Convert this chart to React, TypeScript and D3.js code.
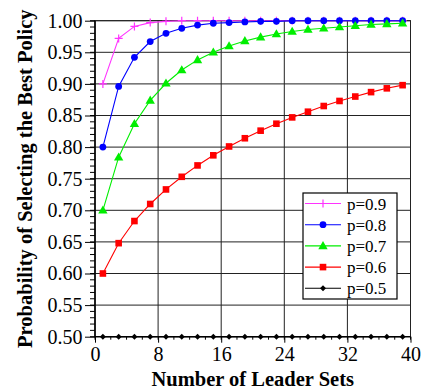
import React, { useEffect, useRef } from 'react';
import * as d3 from 'd3';

const leaderSets = [1, 3, 5, 7, 9, 11, 13, 15, 17, 19, 21, 23, 25, 27, 29, 31, 33, 35, 37, 39];

const p09 = [0.9, 0.972, 0.991, 0.997, 0.999, 1.0, 1.0, 1.0, 1.0, 1.0, 1.0, 1.0, 1.0, 1.0, 1.0, 1.0, 1.0, 1.0, 1.0, 1.0];
const p08 = [0.8, 0.896, 0.942, 0.967, 0.98, 0.988, 0.993, 0.996, 0.997, 0.998, 0.999, 0.999, 1.0, 1.0, 1.0, 1.0, 1.0, 1.0, 1.0, 1.0];
const p07 = [0.7, 0.784, 0.837, 0.874, 0.901, 0.922, 0.938, 0.95, 0.96, 0.968, 0.974, 0.979, 0.983, 0.986, 0.988, 0.99, 0.992, 0.994, 0.995, 0.996];
const p06 = [0.6, 0.648, 0.683, 0.71, 0.733, 0.753, 0.771, 0.787, 0.801, 0.814, 0.826, 0.837, 0.847, 0.856, 0.865, 0.873, 0.88, 0.887, 0.893, 0.898];
const p05 = [0.5, 0.5, 0.5, 0.5, 0.5, 0.5, 0.5, 0.5, 0.5, 0.5, 0.5, 0.5, 0.5, 0.5, 0.5, 0.5, 0.5, 0.5, 0.5, 0.5];

const seriesNames = ['p=0.9', 'p=0.8', 'p=0.7', 'p=0.6', 'p=0.5'];
const seriesValues = [p09, p08, p07, p06, p05];
const seriesColors = ['#ff33ff', '#0000ff', '#00ee00', '#ff0000', '#000000'];
const seriesMarkers = ['plus', 'circle', 'triangle', 'square', 'diamond'];

const xTicks = [0, 8, 16, 24, 32, 40];
const yTicks = [0.5, 0.55, 0.6, 0.65, 0.7, 0.75, 0.8, 0.85, 0.9, 0.95, 1.0];

const FONT = 'Liberation Serif';

const App: React.FC = () => {
  const svgRef = useRef<SVGSVGElement>(null);

  useEffect(() => {
    if (!svgRef.current) return;
    d3.select(svgRef.current).selectAll('*').remove();

    const margin = { top: 20.7, right: 16.5, bottom: 53.3, left: 95 };
    const width = 427 - margin.left - margin.right;
    const height = 390 - margin.top - margin.bottom;

    const svg = d3.select(svgRef.current)
      .attr('font-family', FONT)
      .append('g')
      .attr('transform', `translate(${margin.left},${margin.top})`);

    const x = d3.scaleLinear().domain([0, 40]).range([0, width]);
    const y = d3.scaleLinear().domain([0.5, 1.0]).range([height, 0]);

    // grid
    svg.append('g')
      .selectAll('line')
      .data(yTicks)
      .enter()
      .append('line')
      .attr('x1', 0)
      .attr('x2', width)
      .attr('y1', d => y(d))
      .attr('y2', d => y(d))
      .attr('stroke', '#222')
      .attr('stroke-width', 1);

    svg.append('g')
      .selectAll('line')
      .data(xTicks)
      .enter()
      .append('line')
      .attr('y1', 0)
      .attr('y2', height)
      .attr('x1', d => x(d))
      .attr('x2', d => x(d))
      .attr('stroke', '#222')
      .attr('stroke-width', 1);

    svg.append('rect')
      .attr('width', width)
      .attr('height', height)
      .attr('fill', 'none')
      .attr('stroke', '#222')
      .attr('stroke-width', 1);

    // left and bottom axis lines
    svg.append('path')
      .attr('d', `M0,0V${height}H${width}`)
      .attr('fill', 'none')
      .attr('stroke', '#000')
      .attr('stroke-width', 1.3);

    // minor ticks (outward)
    svg.append('g')
      .selectAll('line')
      .data(d3.range(0.5, 1.0001, 0.01))
      .enter()
      .append('line')
      .attr('x1', 0)
      .attr('x2', -5)
      .attr('y1', d => y(d))
      .attr('y2', d => y(d))
      .attr('stroke', '#000');

    svg.append('g')
      .selectAll('line')
      .data(d3.range(0, 40.001, 2))
      .enter()
      .append('line')
      .attr('y1', height)
      .attr('y2', height + 3)
      .attr('x1', d => x(d))
      .attr('x2', d => x(d))
      .attr('stroke', '#000');

    // major ticks (outward)
    const yAxis = d3.axisLeft(y).tickValues(yTicks).tickSize(10).tickPadding(2.5).tickFormat(d3.format('.2f'));
    const xAxis = d3.axisBottom(x).tickValues(xTicks).tickSize(6).tickPadding(4).tickFormat(d3.format('d'));

    const gy = svg.append('g').call(yAxis);
    const gx = svg.append('g').attr('transform', `translate(0,${height})`).call(xAxis);
    [gy, gx].forEach(g => {
      g.attr('font-family', FONT).attr('font-size', 20);
      g.select('.domain').remove();
      g.selectAll('line').attr('stroke', '#000');
      g.selectAll('text').attr('fill', '#000');
    });

    // lines
    const line = d3.line<number>()
      .x((_, i) => x(leaderSets[i]))
      .y(d => y(d));

    const drawMarker = (g: d3.Selection<SVGGElement, unknown, null, undefined>, kind: string, color: string, cx: number, cy: number) => {
      if (kind === 'plus') {
        g.append('path')
          .attr('d', `M${cx - 4},${cy}H${cx + 4}M${cx},${cy - 4}V${cy + 4}`)
          .attr('stroke', color)
          .attr('stroke-width', 1.2);
      } else if (kind === 'circle') {
        g.append('circle').attr('cx', cx).attr('cy', cy).attr('r', 3.4).attr('fill', color);
      } else if (kind === 'triangle') {
        g.append('path')
          .attr('d', d3.symbol(d3.symbolTriangle, 38)())
          .attr('transform', `translate(${cx},${cy + 0.6})`)
          .attr('fill', color);
      } else if (kind === 'square') {
        g.append('rect').attr('x', cx - 3.3).attr('y', cy - 3.3).attr('width', 6.6).attr('height', 6.6).attr('fill', color);
      } else {
        g.append('path')
          .attr('d', `M${cx},${cy - 3}L${cx + 3},${cy}L${cx},${cy + 3}L${cx - 3},${cy}Z`)
          .attr('fill', color);
      }
    };

    seriesValues.forEach((vals, si) => {
      const g = svg.append('g');
      g.append('path')
        .attr('d', line(vals) || '')
        .attr('fill', 'none')
        .attr('stroke', seriesColors[si])
        .attr('stroke-width', 1.1);
      vals.forEach((v, i) => drawMarker(g, seriesMarkers[si], seriesColors[si], x(leaderSets[i]), y(v)));
    });

    // legend
    const lg = svg.append('g').attr('transform', `translate(${303 - margin.left},${193 - margin.top})`);
    lg.append('rect')
      .attr('width', 94)
      .attr('height', 106)
      .attr('fill', '#fff')
      .attr('stroke', '#000')
      .attr('stroke-width', 1.2);
    seriesNames.forEach((name, i) => {
      const ry = 10.5 + i * 21.2;
      const row = lg.append('g');
      row.append('line')
        .attr('x1', 2).attr('x2', 38)
        .attr('y1', ry).attr('y2', ry)
        .attr('stroke', seriesColors[i])
        .attr('stroke-width', 1.1);
      drawMarker(row, seriesMarkers[i], seriesColors[i], 20, ry);
      row.append('text')
        .attr('x', 44)
        .attr('y', ry + 6)
        .attr('font-size', 17)
        .text(name);
    });

    // axis titles
    svg.append('text')
      .attr('x', width / 2)
      .attr('y', 386 - margin.top)
      .attr('text-anchor', 'middle')
      .attr('font-size', 20.5)
      .attr('font-weight', 'bold')
      .text('Number of Leader Sets');

    svg.append('text')
      .attr('transform', 'rotate(-90)')
      .attr('x', -height / 2)
      .attr('y', 31.5 - margin.left)
      .attr('text-anchor', 'middle')
      .attr('font-size', 20.5)
      .attr('font-weight', 'bold')
      .text('Probability of Selecting the Best Policy');
  }, []);

  return (
    <svg
      ref={svgRef}
      width={427}
      height={390}
      style={{ position: 'absolute', left: 0, top: 0, background: '#fff' }}
    />
  );
};

export default App;
